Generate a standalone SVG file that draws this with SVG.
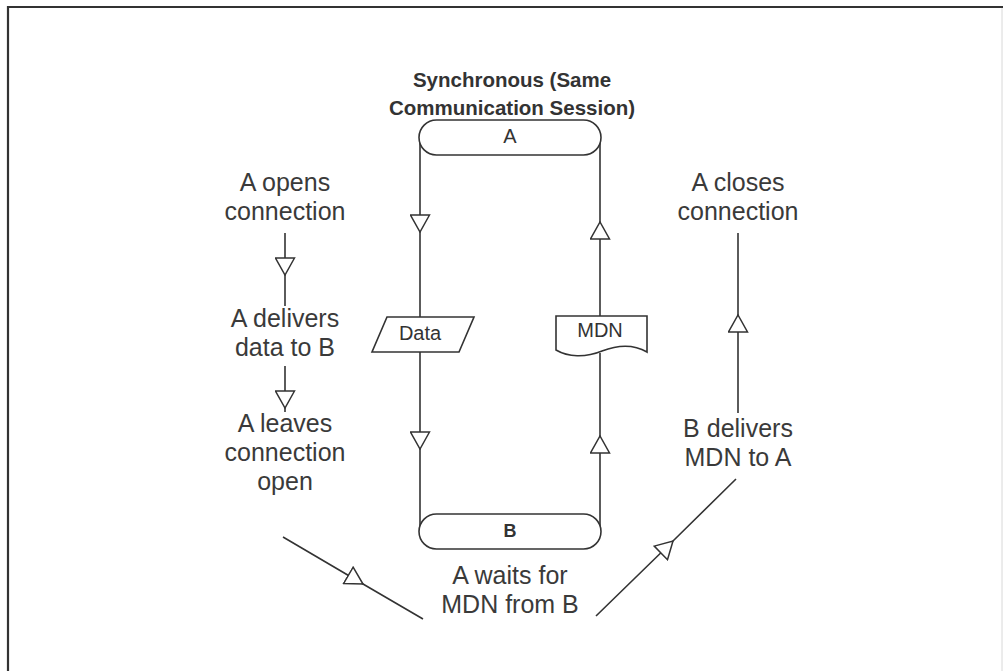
<svg xmlns="http://www.w3.org/2000/svg" width="1005" height="671" viewBox="0 0 1005 671">
<defs>
<marker id="tri" viewBox="-1 -1 19 21" refX="17" refY="9.5" markerWidth="19" markerHeight="21" markerUnits="userSpaceOnUse" orient="auto">
<path d="M0,0 L17,9.5 L0,19 Z" fill="#fff" stroke="#333" stroke-width="1.5" stroke-linejoin="miter"/>
</marker>
<style>
.ln{fill:none;stroke:#333;stroke-width:1.6;marker-mid:url(#tri)}
.sh{fill:#fff;stroke:#333;stroke-width:1.6}
.lb{font-family:"Liberation Sans",Arial,sans-serif;font-size:25px;fill:#3a3a3a;text-anchor:middle}
.nt{font-family:"Liberation Sans",Arial,sans-serif;font-size:20px;fill:#333;text-anchor:middle}
.tt{font-family:"Liberation Sans",Arial,sans-serif;font-size:20.5px;font-weight:bold;fill:#333;text-anchor:middle}
</style>
</defs>
<rect width="1005" height="671" fill="#fff"/>
<g id="frame">
<line x1="1002" y1="7" x2="1002" y2="671" stroke="#d8d8d8" stroke-width="1"/>
<path d="M8,671 L8,7 L1003,7" fill="none" stroke="#333" stroke-width="2.2"/>
</g>
<g id="title">
<text class="tt" x="512" y="87">Synchronous (Same</text>
<text class="tt" x="512" y="115">Communication Session)</text>
</g>
<g id="connectors">
<path class="ln" d="M420,137 L420,232 L420,317"/>
<path class="ln" d="M420,352 L420,449 L420,531"/>
<path class="ln" d="M600,316 L600,222 L600,137"/>
<path class="ln" d="M600,531 L600,436 L600,353"/>
<path class="ln" d="M285,233 L285,275 L285,306"/>
<path class="ln" d="M285,366 L285,408 L285,412"/>
<path class="ln" d="M738,413 L738,315 L738,233"/>
<path class="ln" d="M283,537 L363,584 L423,619"/>
<path class="ln" d="M596,616 L673,541 L736,479"/>
</g>
<g id="nodeA">
<rect class="sh" x="419" y="120" width="182" height="35" rx="17.5"/>
<text class="nt" x="510" y="143">A</text>
</g>
<g id="nodeB">
<rect class="sh" x="419" y="514" width="182" height="35" rx="17.5"/>
<text class="nt" x="510" y="537" style="font-weight:bold;font-size:18px">B</text>
</g>
<g id="data">
<polygon class="sh" points="387,317 474,317 459,352 372,352"/>
<text class="nt" x="420" y="340">Data</text>
</g>
<g id="mdn">
<path class="sh" d="M556,316 H647 V352 C635,345 620,344 602,351 C585,358 568,357 556,350 Z"/>
<text class="nt" x="600" y="337">MDN</text>
</g>
<g id="opens">
<text class="lb" x="285" y="191">A opens</text>
<text class="lb" x="285" y="220">connection</text>
</g>
<g id="delivers">
<text class="lb" x="285" y="327">A delivers</text>
<text class="lb" x="285" y="356">data to B</text>
</g>
<g id="leaves">
<text class="lb" x="285" y="432">A leaves</text>
<text class="lb" x="285" y="461">connection</text>
<text class="lb" x="285" y="490">open</text>
</g>
<g id="waits">
<text class="lb" x="510" y="584">A waits for</text>
<text class="lb" x="510" y="613">MDN from B</text>
</g>
<g id="bdelivers">
<text class="lb" x="738" y="437">B delivers</text>
<text class="lb" x="738" y="466">MDN to A</text>
</g>
<g id="closes">
<text class="lb" x="738" y="191">A closes</text>
<text class="lb" x="738" y="220">connection</text>
</g>
</svg>
